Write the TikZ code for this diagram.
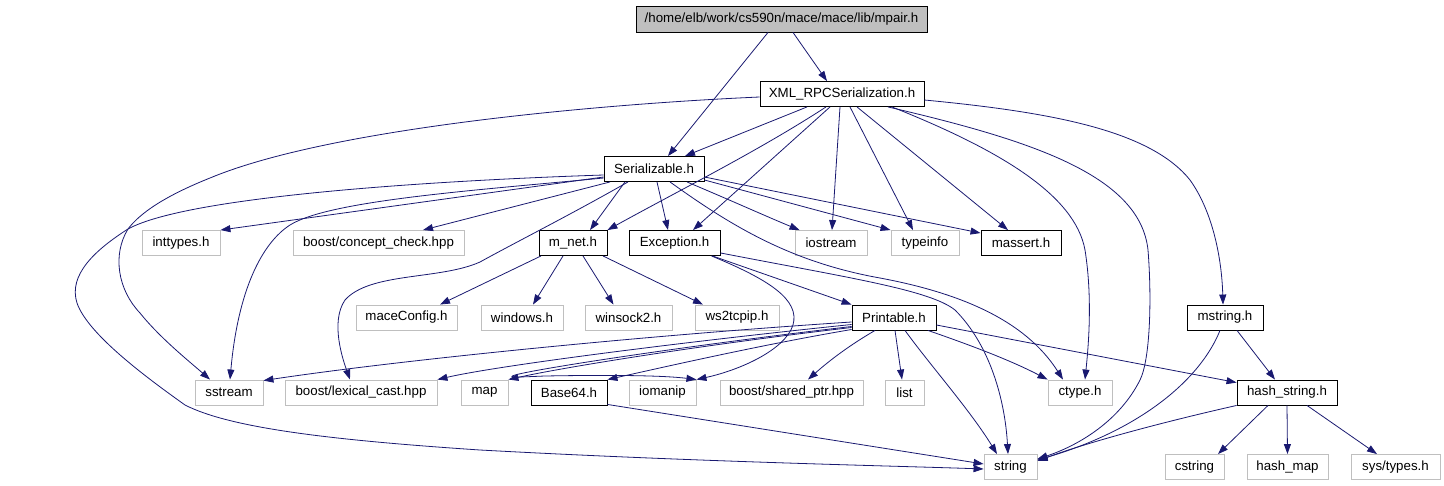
\documentclass[tikz,border=0pt]{standalone}
\usepackage{fontspec}
\setmainfont{Liberation Sans}
\usetikzlibrary{arrows.meta}
\definecolor{edgecol}{HTML}{191970}
\definecolor{graybox}{HTML}{BFBFBF}
\newcommand\dxfont{\fontsize{13.3}{16}\selectfont}
\tikzset{
  box/.style={draw=black, fill=white, line width=0.9pt, minimum height=25pt, inner sep=0pt, font=\dxfont},
  gbox/.style={box, draw=graybox},
  edge/.style={draw=edgecol, line width=0.8pt, -{Triangle[length=10pt,width=7pt]}},
}
\begin{document}
\begin{tikzpicture}[x=1pt,y=-1pt]
\useasboundingbox (0,0) rectangle (1444,485);
% row 0
\node[box, fill=graybox, minimum width=291pt, minimum height=26pt] (mpair) at (781.5,19) {/home/elb/work/cs590n/mace/mace/lib/mpair.h};
% row 1
\node[box, minimum width=164pt] (xml) at (842,94) {XML\_RPCSerialization.h};
% row 2
\node[box, minimum width=100pt] (serial) at (654,169) {Serializable.h};
% row 3
\node[gbox, minimum width=78pt] (inttypes) at (181,243) {inttypes.h};
\node[gbox, minimum width=171pt] (concept) at (378.5,243) {boost/concept\_check.hpp};
\node[box, minimum width=68pt] (mnet) at (573,243) {m\_net.h};
\node[box, minimum width=91pt] (exception) at (674.5,243) {Exception.h};
\node[gbox, minimum width=72pt] (iostream) at (831,243) {iostream};
\node[gbox, minimum width=68pt] (typeinfo) at (925,243) {typeinfo};
\node[box, minimum width=80pt] (massert) at (1021,243) {massert.h};
% row 4
\node[gbox, minimum width=101pt] (maceconfig) at (406.5,317.5) {maceConfig.h};
\node[gbox, minimum width=82pt] (windows) at (522,317.5) {windows.h};
\node[gbox, minimum width=87pt] (winsock) at (628.5,317.5) {winsock2.h};
\node[gbox, minimum width=84pt] (ws) at (737,317.5) {ws2tcpip.h};
\node[box, minimum width=84pt] (printable) at (894,317.5) {Printable.h};
\node[box, minimum width=76pt] (mstring) at (1225,317.5) {mstring.h};
% row 5
\node[gbox, minimum width=68pt] (sstream) at (229,392.5) {sstream};
\node[gbox, minimum width=152pt] (lexical) at (361,392.5) {boost/lexical\_cast.hpp};
\node[gbox, minimum width=47pt] (map) at (484.5,392.5) {map};
\node[box, minimum width=76pt] (base) at (569,392.5) {Base64.h};
\node[gbox, minimum width=67pt] (iomanip) at (662.5,392.5) {iomanip};
\node[gbox, minimum width=143pt] (sharedptr) at (791.5,392.5) {boost/shared\_ptr.hpp};
\node[gbox, minimum width=39pt] (list) at (904.5,392.5) {list};
\node[gbox, minimum width=64pt] (ctype) at (1080,392.5) {ctype.h};
\node[box, minimum width=100pt] (hashstring) at (1287,392.5) {hash\_string.h};
% row 6
\node[gbox, minimum width=53pt] (string) at (1010.5,467) {string};
\node[gbox, minimum width=59pt] (cstring) at (1194.5,467) {cstring};
\node[gbox, minimum width=81pt] (hashmap) at (1287.5,467) {hash\_map};
\node[gbox, minimum width=89pt] (systypes) at (1395.5,467) {sys/types.h};

% mpair edges
\draw[edge] ([xshift=-13.5pt]mpair.south) -- ([xshift=14pt]serial.north);
\draw[edge] ([xshift=11.5pt]mpair.south) -- ([xshift=-15pt]xml.north);

% XML_RPCSerialization edges
\draw[edge] ([xshift=-35pt]xml.south) -- ([xshift=31pt]serial.north);
\draw[edge] ([yshift=-3pt]xml.west) .. controls (600,104) and (330,128) .. (210,178) .. controls (165,196) and (140,213) .. (128,229) .. controls (112,255) and (118,290) .. (140,313) .. controls (160,338) and (190,362) .. ([xshift=-19pt]sstream.north);
\draw[edge] ([xshift=-16pt]xml.south) .. controls (760,150) and (680,190) .. (mnet.north east);
\draw[edge] ([xshift=-12pt]xml.south) -- ([xshift=18.5pt]exception.north);
\draw[edge] ([xshift=-2pt]xml.south) -- ([xshift=1pt]iostream.north);
\draw[edge] ([xshift=8pt]xml.south) -- ([xshift=-12pt]typeinfo.north);
\draw[edge] ([xshift=15pt]xml.south) -- ([xshift=-13pt]massert.north);
\draw[edge] ([xshift=50pt]xml.south) .. controls (1000,150) and (1075,195) .. (1085,250) .. controls (1093,300) and (1088,350) .. ([xshift=5pt]ctype.north);
\draw[edge] ([xshift=46pt]xml.south) .. controls (1030,140) and (1140,175) .. (1148,250) .. controls (1152,300) and (1150,360) .. (1140,380) .. controls (1120,420) and (1080,445) .. ([yshift=8pt]string.east);
\draw[edge] ([yshift=-6pt]xml.east) .. controls (1050,112) and (1150,130) .. (1190,180) .. controls (1215,215) and (1222,265) .. ([xshift=-2pt]mstring.north);

% Serializable edges
\draw[edge] ([yshift=-6pt]serial.west) .. controls (450,180) and (190,195) .. (128,229) .. controls (95,250) and (68,275) .. (77,303) .. controls (88,335) and (150,380) .. (185,405) .. controls (230,428) and (330,440) .. (480,450) .. controls (700,462) and (900,466) .. ([yshift=-2pt]string.west);
\draw[edge] ([yshift=-9pt]serial.west) .. controls (480,190) and (330,200) .. (290,225) .. controls (262,243) and (238,290) .. ([xshift=1pt]sstream.north);
\draw[edge] ([yshift=-8pt]serial.west) -- (inttypes.north east);
\draw[edge] ([xshift=-44pt]serial.south) -- ([xshift=44.5pt]concept.north);
\draw[edge] ([xshift=-26pt]serial.south) .. controls (570,215) and (520,240) .. (480,262) .. controls (440,280) and (370,272) .. (345,300) .. controls (330,322) and (343,360) .. ([xshift=-11pt]lexical.north);
\draw[edge] ([xshift=-29pt]serial.south) -- ([xshift=17pt]mnet.north);
\draw[edge] ([xshift=3pt]serial.south) -- ([xshift=-6.5pt]exception.north);
\draw[edge] ([xshift=33pt]serial.south) .. controls (730,200) and (770,218) .. ([xshift=5pt]iostream.north west);
\draw[edge] ([yshift=-11pt]serial.east) -- (typeinfo.north west);
\draw[edge] ([yshift=-8pt]serial.east) -- ([yshift=-3pt]massert.north west);
\draw[edge] ([xshift=16pt]serial.south) .. controls (730,225) and (790,262) .. (880,278) .. controls (960,293) and (1025,320) .. ([xshift=-17pt]ctype.north);

% Exception edges
\draw[edge] ([xshift=38pt]exception.south) -- (printable.north west);
\draw[edge] ([yshift=3pt]exception.south east) .. controls (850,278) and (930,290) .. (955,310) .. controls (990,345) and (1005,400) .. ([xshift=-2.5pt]string.north);
\draw[edge] ([xshift=37pt]exception.south) .. controls (770,280) and (800,300) .. (793,325) .. controls (785,350) and (740,370) .. (iomanip.north east);

% m_net edges
\draw[edge] ([xshift=-32pt]mnet.south) -- ([xshift=33.5pt]maceconfig.north);
\draw[edge] ([xshift=-10pt]mnet.south) -- ([xshift=11pt]windows.north);
\draw[edge] ([xshift=10pt]mnet.south) -- ([xshift=-15pt]winsock.north);
\draw[edge] ([xshift=30pt]mnet.south) -- ([xshift=-34pt]ws.north);

% Printable edges
\draw[edge] ([yshift=-4.5pt]printable.west) .. controls (650,335) and (400,360) .. ([yshift=-1pt]sstream.north east);
\draw[edge] ([yshift=-7pt]printable.west) .. controls (700,340) and (500,365) .. (lexical.north east);
\draw[edge] ([yshift=-10pt]printable.west) .. controls (700,345) and (560,368) .. (map.north east);
\draw[edge] ([yshift=-12pt]printable.west) .. controls (760,345) and (660,368) .. (base.north east);
\draw[edge] ([yshift=-9pt]printable.west) .. controls (700,344) and (540,368) .. (515,375) .. controls (505,378) and (520,377) .. (545,376) .. controls (600,375) and (660,375) .. (iomanip.north east);
\draw[edge] ([xshift=-19pt]printable.south) .. controls (850,345) and (830,360) .. ([xshift=16.5pt]sharedptr.north);
\draw[edge] ([xshift=1pt]printable.south) -- ([xshift=-2.5pt]list.north);
\draw[edge] ([xshift=11pt]printable.south) .. controls (930,365) and (970,410) .. ([xshift=-13.5pt]string.north);
\draw[edge] ([xshift=34pt]printable.south) .. controls (970,345) and (1010,360) .. (ctype.north west);
\draw[edge] ([yshift=-7.5pt]printable.east) -- ([yshift=-3pt]hashstring.north west);

% Base64 edge
\draw[edge] ([yshift=1pt]base.south east) -- ([yshift=3pt]string.west);

% mstring edges
\draw[edge] ([xshift=12pt]mstring.south) -- ([xshift=-12pt]hashstring.north);
\draw[edge] ([xshift=-5pt]mstring.south) .. controls (1200,380) and (1140,430) .. ([yshift=7pt]string.east);

% hash_string edges
\draw[edge] (hashstring.south west) .. controls (1150,425) and (1080,445) .. ([yshift=6pt]string.east);
\draw[edge] ([xshift=-19pt]hashstring.south) -- ([xshift=23.5pt]cstring.north);
\draw[edge] (hashstring.south) -- (hashmap.north);
\draw[edge] ([xshift=20pt]hashstring.south) -- ([xshift=-18.5pt]systypes.north);
\end{tikzpicture}
\end{document}
